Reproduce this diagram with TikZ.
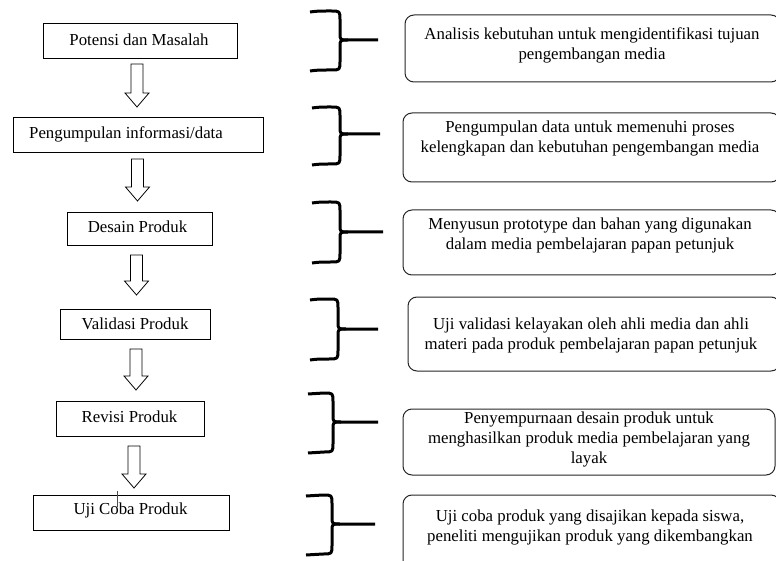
\documentclass[tikz,border=0pt]{standalone}
\usepackage{fontspec}
\setmainfont{Liberation Serif}
\begin{document}
\begin{tikzpicture}[x=1pt,y=-1pt,
  stepbox/.style={draw=black,line width=0.9pt,inner sep=0pt},
  infobox/.style={draw=black!85,line width=1pt,rounded corners=9pt,inner sep=0pt},
  lbl/.style={font=\fontsize{16.8}{20}\selectfont,inner sep=0pt,align=center},
  blockarrow/.style={draw=black,line width=0.8pt,fill=white,line join=miter},
  bracestyle/.style={draw=black,line width=3pt,line cap=butt,line join=round}]
\useasboundingbox (0,0) rectangle (776,561);
\clip (0,0) rectangle (776,561);
\newcommand\blockdown[3]{%
  \draw[blockarrow] ({#1-6},#2) -- ({#1+6},#2) -- ({#1+6},{#3-14}) -- ({#1+12},{#3-14})
     -- (#1,#3) -- ({#1-12},{#3-14}) -- ({#1-6},{#3-14}) -- cycle;}
\newcommand\curlybr[6]{% left, xv, tail, top, mid, bottom
  \draw[bracestyle] (#1,{#4+1}) .. controls ({#1+8},#4) .. ({#2-9},#4) .. controls (#2,#4) .. (#2,{#4+9})
     -- (#2,{#5-7}) .. controls (#2,#5) .. ({#2+8},#5) -- (#3,#5);
  \draw[bracestyle] ({#2+8},#5) .. controls (#2,#5) .. (#2,{#5+7})
     -- (#2,{#6-9}) .. controls (#2,#6) .. ({#2-9},#6) .. controls ({#1+8},#6) .. (#1,{#6+1});}
% left step boxes
\node[stepbox,minimum width=194pt,minimum height=35pt] (s1) at (140,40.5) {};
\node[lbl] (t1) at (139,40) {Potensi dan Masalah};
\node[stepbox,minimum width=250pt,minimum height=35pt] (s2) at (138,134.5) {};
\node[lbl] (t2) at (126,134) {Pengumpulan informasi/data};
\node[stepbox,minimum width=145pt,minimum height=33pt] (s3) at (139.5,228.5) {};
\node[lbl] (t3) at (137.5,227) {Desain Produk};
\node[stepbox,minimum width=150pt,minimum height=30pt] (s4) at (135,324) {};
\node[lbl] (t4) at (135,324) {Validasi Produk};
\node[stepbox,minimum width=148pt,minimum height=35pt] (s5) at (130,418.5) {};
\node[lbl] (t5) at (129.5,417) {Revisi Produk};
\node[stepbox,minimum width=196pt,minimum height=35pt] (s6) at (131,512.5) {};
\node[lbl] (t6) at (130.5,510) {Uji Coba Produk};
\draw[black!70,line width=0.6pt] (117,491) -- (117,507);
% arrows
\blockdown{137}{64}{107}
\blockdown{137.5}{159}{201}
\blockdown{136.5}{255}{295}
\blockdown{136}{349}{390}
\blockdown{134}{446}{488}
% braces
\curlybr{310}{340}{378}{11}{40}{70}
\curlybr{312}{340}{380}{107}{134}{164}
\curlybr{312}{340}{383}{202}{232}{262}
\curlybr{310}{338}{378}{299}{329}{359}
\curlybr{308}{333}{378}{393}{422}{452}
\curlybr{306}{332}{375}{495}{524}{554}
% right info boxes
\node[infobox,minimum width=375pt,minimum height=67pt] (r1) at (592.5,48.5) {};
\node[lbl] (u1) at (592,45) {Analisis kebutuhan untuk mengidentifikasi tujuan\\pengembangan media};
\node[infobox,minimum width=377pt,minimum height=69pt] (r2) at (591.5,147.5) {};
\node[lbl] (u2) at (590,138) {Pengumpulan data untuk memenuhi proses\\kelengkapan dan kebutuhan pengembangan media};
\node[infobox,minimum width=377pt,minimum height=65pt] (r3) at (591.5,242.5) {};
\node[lbl] (u3) at (590,235) {Menyusun prototype dan bahan yang digunakan\\dalam media pembelajaran papan petunjuk};
\node[infobox,minimum width=372pt,minimum height=74pt] (r4) at (594,334) {};
\node[lbl] (u4) at (591,335) {Uji validasi kelayakan oleh ahli media dan ahli\\materi pada produk pembelajaran papan petunjuk};
\node[infobox,minimum width=372pt,minimum height=66pt] (r5) at (589,442) {};
\node[lbl] (u5) at (589,439) {Penyempurnaan desain produk untuk\\menghasilkan produk media pembelajaran yang\\layak};
\node[infobox,minimum width=377pt,minimum height=80pt] (r6) at (591.5,535) {};
\node[lbl] (u6) at (590,527) {Uji coba produk yang disajikan kepada siswa,\\peneliti mengujikan produk yang dikembangkan};
\end{tikzpicture}
\end{document}
